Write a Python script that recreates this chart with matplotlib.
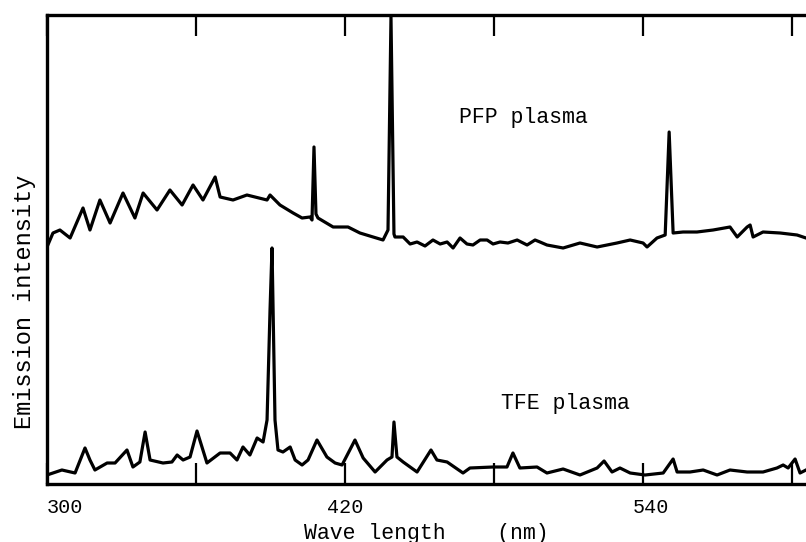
import matplotlib.pyplot as plt
import matplotlib.transforms as mtransforms

# Emission spectra of the two plasmas (arbitrary intensity units)
pfp_wl = [300.0, 302.4, 305.2, 309.3, 314.5, 317.3, 321.3, 325.4, 330.6, 335.4,
          338.7, 344.3, 349.5, 354.4, 358.8, 362.8, 367.7, 369.7, 374.9, 380.5,
          388.6, 389.8, 393.8, 399.1, 402.7, 405.9, 406.7, 407.5, 408.3, 409.1,
          415.2, 421.2, 426.0, 431.3, 435.3, 437.3, 438.5, 439.7, 440.1, 443.4,
          446.2, 449.0, 452.2, 455.4, 458.3, 461.1, 463.5, 466.3, 469.1, 471.5,
          474.4, 477.2, 479.6, 482.4, 485.6, 489.3, 493.3, 496.5, 498.5, 501.3,
          507.8, 514.6, 521.5, 529.5, 534.8, 540.0, 541.6, 545.6, 548.9, 550.5,
          552.1, 556.1, 561.7, 568.2, 575.0, 577.9, 581.9, 583.1, 584.3, 588.3,
          595.2, 602.0, 605.6]
pfp_int = [237, 251, 254, 246, 276, 254, 284, 261, 291, 266,
           291, 274, 294, 279, 299, 284, 307, 287, 284, 289,
           284, 289, 279, 271, 266, 267, 264, 337, 270, 266,
           257, 257, 251, 247, 244, 254, 467, 250, 247, 247,
           240, 242, 238, 244, 240, 242, 236, 246, 240, 239,
           244, 244, 240, 242, 241, 244, 239, 244, 242, 239,
           236, 241, 237, 241, 244, 241, 237, 246, 249, 352,
           251, 252, 252, 254, 257, 247, 257, 259, 247, 252,
           251, 249, 246]

tfe_wl = [300.0, 302.4, 306.0, 311.3, 315.3, 317.3, 319.3, 324.2, 327.4, 332.2,
          334.6, 337.4, 339.5, 341.5, 346.7, 350.3, 352.4, 354.8, 357.6, 360.4,
          364.4, 369.7, 373.7, 376.5, 378.9, 381.7, 384.6, 387.0, 388.6, 389.8,
          390.6, 391.8, 393.0, 395.0, 397.9, 399.9, 402.7, 405.1, 408.7, 412.7,
          416.0, 418.8, 424.0, 427.3, 432.1, 436.9, 438.9, 439.7, 440.9, 443.4,
          449.0, 454.6, 457.0, 461.1, 467.5, 470.3, 479.6, 485.2, 487.6, 490.4,
          497.3, 501.3, 507.8, 514.6, 521.5, 524.3, 527.5, 530.7, 534.8, 540.8,
          548.1, 552.1, 553.7, 558.9, 564.2, 569.8, 575.0, 581.9, 588.3, 593.9,
          596.4, 598.4, 601.2, 603.2, 605.6]
tfe_int = [9, 11, 14, 11, 36, 24, 14, 21, 21, 34,
           17, 22, 52, 24, 21, 22, 29, 24, 27, 53,
           21, 31, 31, 24, 37, 29, 46, 42, 64, 174,
           236, 64, 34, 32, 37, 24, 19, 24, 44, 27,
           21, 19, 44, 26, 12, 24, 27, 62, 27, 22,
           12, 34, 24, 22, 11, 16, 17, 17, 31, 16,
           17, 11, 15, 9, 16, 23, 12, 16, 11, 9,
           11, 25, 12, 12, 14, 9, 14, 12, 12, 16,
           19, 16, 25, 11, 14]

tick_pos = [300, 360, 420, 480, 540, 600]
tick_lab = ['300', '', '420', '', '540', '']

mono = 'Liberation Mono'

fig = plt.figure(figsize=(8.06, 5.42), dpi=100)
ax = fig.add_axes([47 / 806, 58 / 542, 759 / 806, 469 / 542])

ax.plot(pfp_wl, pfp_int, color='black', lw=2.3, solid_joinstyle='round')
ax.plot(tfe_wl, tfe_int, color='black', lw=2.3, solid_joinstyle='round')

ax.set_xlim(300, 605.6)
ax.set_ylim(0, 469)

for side in ['left', 'top', 'bottom']:
    ax.spines[side].set_linewidth(2.4)
ax.spines['right'].set_visible(False)

ax.set_xticks(tick_pos)
ax.set_xticklabels(tick_lab, fontfamily=mono, fontsize=14.5)
ax.set_yticks([])
ax.tick_params(axis='x', which='both', direction='in', length=15, width=1.6,
               top=True, bottom=True, pad=10)

# nudge the first and third number labels to the right
labels = ax.get_xticklabels()
labels[0].set_horizontalalignment('left')
labels[4].set_transform(labels[4].get_transform() +
                        mtransforms.ScaledTranslation(8 / 100, 0, fig.dpi_scale_trans))

ax.set_xlabel('Wave length    (nm)', fontfamily=mono, fontsize=15.5, va='center')
ax.xaxis.set_label_coords(0.5, -0.1045)
ax.set_ylabel('Emission intensity', fontfamily=mono, fontsize=17, va='center')
ax.yaxis.set_label_coords(-0.029, 0.389)

ax.text(492, 367, 'PFP plasma', fontfamily=mono, fontsize=15.5, ha='center', va='center')
ax.text(508.6, 81, 'TFE plasma', fontfamily=mono, fontsize=15.5, ha='center', va='center')

fig.savefig('out.png', dpi=100)
